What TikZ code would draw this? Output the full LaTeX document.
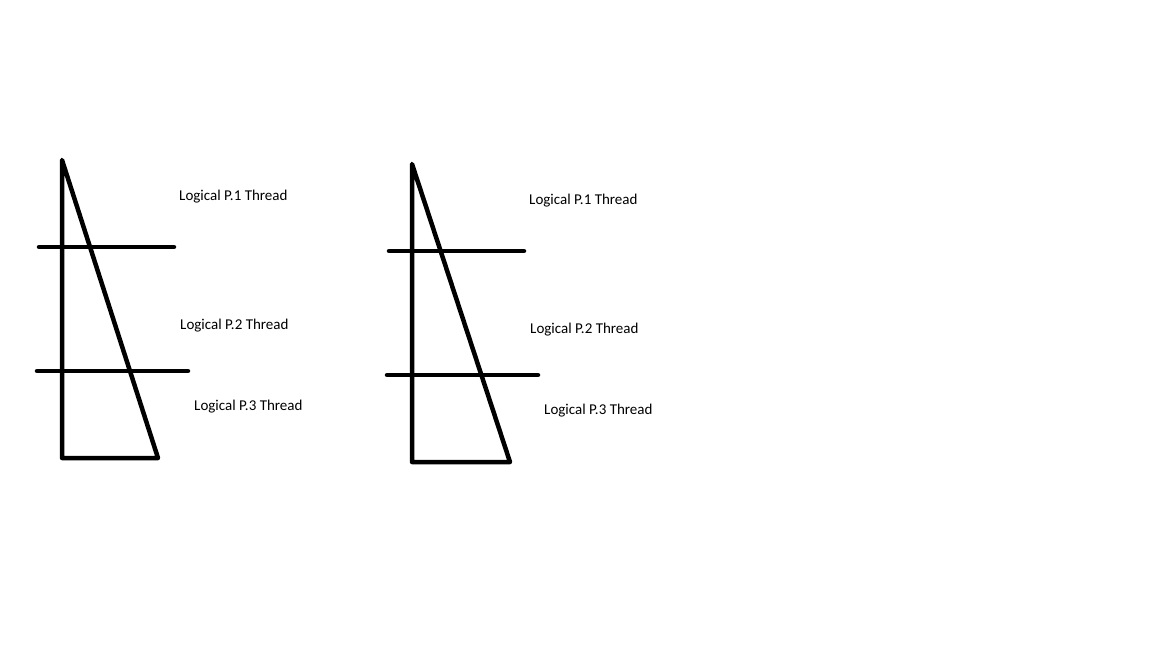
\documentclass[tikz,border=0pt]{standalone}
\usepackage{fontspec}
\setmainfont{Carlito}
\usepackage{tikz}
\usetikzlibrary{positioning}

\begin{document}
\begin{tikzpicture}[
    x=1pt, y=-1pt,
    stroke/.style={line width=4.5pt, line cap=round, line join=round},
    lbl/.style={anchor=west, inner sep=0pt, font=\fontsize{15}{17}\selectfont}
]
\useasboundingbox (0,0) rectangle (1152,648);

% --- Two identical thread triangles, second one shifted right ---
\foreach \dx/\dy/\tip in {0/0/158, 350/4/160} {
  \begin{scope}[shift={(\dx,\dy)}]
    \coordinate (apex) at (62,160);
    \coordinate (base) at (62,458);
    \coordinate (tip) at (\tip,458);
    \draw[stroke] (apex) -- (base) -- (tip) -- cycle;
    \draw[stroke] (39,247) -- (174,247);
    \draw[stroke] (37,371) -- (188,371);
    \node[lbl] (t1) at (179,197) {Logical P.1 Thread};
    \node[lbl] (t2) at (180,326) {Logical P.2 Thread};
    \node[lbl] (t3) at (194,407) {Logical P.3 Thread};
  \end{scope}
}
\end{tikzpicture}
\end{document}
